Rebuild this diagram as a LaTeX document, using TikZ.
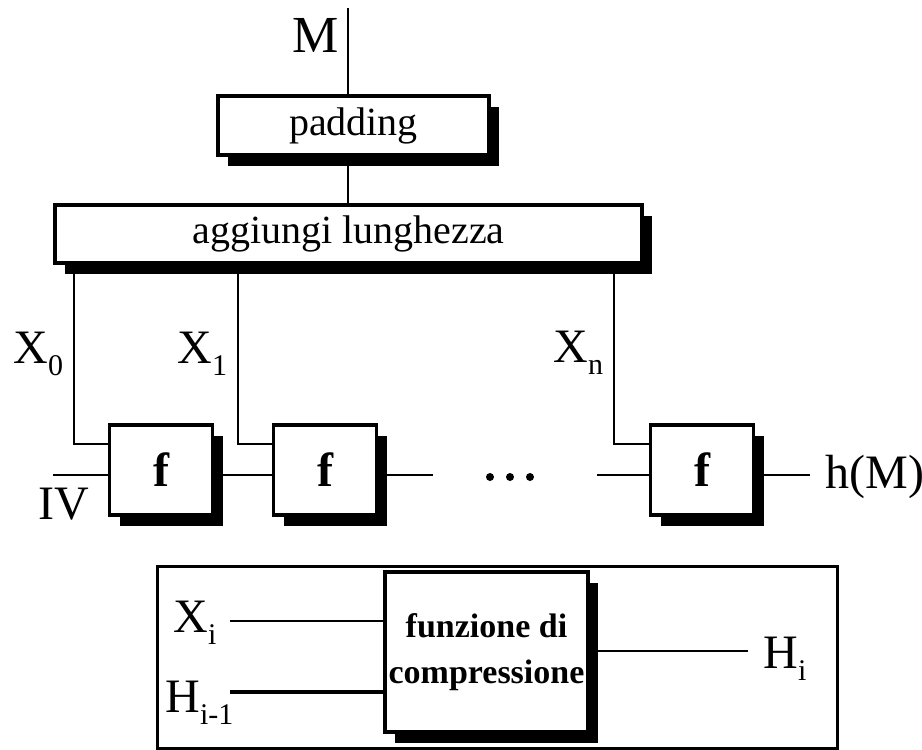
\documentclass[tikz,border=0pt]{standalone}
\usepackage{fontspec}
\setmainfont{Liberation Serif}
\usetikzlibrary{shadows}

\newcommand\subidx[1]{\raisebox{-6pt}{\fontsize{15}{15}\selectfont #1}}

\tikzset{
  blk/.style={draw, line width=1.8pt, fill=white, inner sep=0pt,
    drop shadow={shadow xshift=5pt, shadow yshift=-5.5pt, fill=black, opacity=1}},
  fblock/.style={blk, minimum width=51.5pt, minimum height=45pt,
    font=\fontsize{24}{28}\selectfont\bfseries},
  lbl/.style={inner sep=0pt, font=\fontsize{24}{28}\selectfont},
  wire/.style={line width=1.3pt}
}

\begin{document}
\begin{tikzpicture}[x=0.5pt, y=-0.5pt]
  \useasboundingbox (0,0) rectangle (922,750);

  % message, padding and length
  \coordinate (top) at (348,8);
  \node[blk, minimum width=135.5pt, minimum height=29.5pt, font=\fontsize{20}{24}\selectfont] (pad) at (353.5,125.5) {padding};
  \node[blk, minimum width=293.5pt, minimum height=29pt, font=\fontsize{20}{24}\selectfont] (len) at (348.5,234) {aggiungi lunghezza};
  \node[lbl, anchor=base east, font=\fontsize{26}{30}\selectfont] (msg) at (339,52) {M};
  \draw[wire] (top) -- (top |- pad.north);
  \draw[wire] (pad.south -| top) -- (len.north -| top);

  % chain of compression blocks
  \foreach \n/\cx/\wx in {1/161/74,2/325/238,3/702/614}{
    \node[fblock] (f\n) at (\cx,470) {f};
    \coordinate (x\n) at (\wx,444);
    \draw[wire] (len.south -| x\n) |- (f\n.west |- x\n);
  }
  \node[lbl, anchor=base west] (lx0) at (13,363) {X\subidx{0}};
  \node[lbl, anchor=base west] (lx1) at (177,363) {X\subidx{1}};
  \node[lbl, anchor=base west] (lxn) at (553,362) {X\subidx{n}};

  \coordinate (iv) at (53,475);
  \coordinate (c2) at (433,475);
  \coordinate (c3) at (597,475);
  \coordinate (out) at (810,475);
  \draw[wire] (iv) -- (f1.west |- iv);
  \draw[wire] (f1.east |- iv) -- (f2.west |- iv);
  \draw[wire] (f2.east |- iv) -- (c2);
  \draw[wire] (c3) -- (f3.west |- iv);
  \draw[wire] (f3.east |- iv) -- (out);
  \foreach \dx in {490,510,530}
    \fill (\dx,477) circle (2pt);
  \node[lbl, anchor=base west] (liv) at (38,519) {IV};
  \node[lbl, anchor=base west] (hm) at (825,488) {h(M)};

  % single step
  \node[draw, line width=1.5pt, minimum width=340pt, minimum height=91pt, inner sep=0pt] (legend) at (497,657) {};
  \node[blk, minimum width=101.5pt, minimum height=80pt, align=center,
    font=\fontsize{17}{23}\selectfont\bfseries] (comp) at (486.5,652) {funzione di\\compressione};
  \coordinate (xi) at (230,621);
  \coordinate (hprev) at (230,692);
  \coordinate (hout) at (748,651);
  \draw[wire] (xi) -- (comp.west |- xi);
  \draw[line width=2pt] (hprev) -- (comp.west |- hprev);
  \draw[wire] (comp.east |- hout) -- (hout);
  \node[lbl, anchor=base west] (lxi) at (173,632) {X\subidx{i}};
  \node[lbl, anchor=base west] (lhp) at (165,712) {H\subidx{i-1}};
  \node[lbl, anchor=base west] (lhi) at (763,668) {H\subidx{i}};
\end{tikzpicture}
\end{document}
